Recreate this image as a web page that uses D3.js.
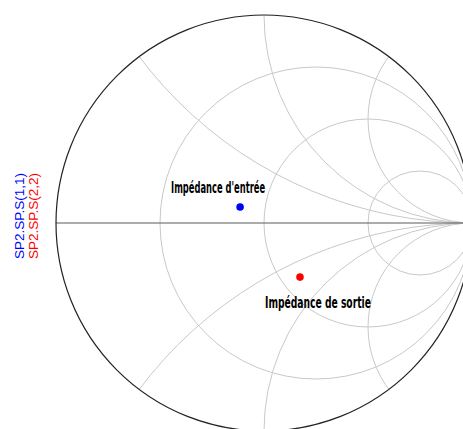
<!DOCTYPE html>
<html><head><meta charset="utf-8">
<script src="https://cdn.jsdelivr.net/npm/d3@7"></script>
<style>body{margin:0;background:#fff}svg{display:block}</style>
</head><body>
<svg id="chart" width="463" height="429"></svg>
<script>
// Data
const seriesNames = ["SP2.SP.S(1,1)", "SP2.SP.S(2,2)"];
const seriesColors = ["#0000ff", "#ff0000"];
const seriesRe = [-0.115, 0.173];
const seriesIm = [0.077, -0.260];
const markerLabels = ["Impédance d'entrée", "Impédance de sortie"];
const resistanceValues = [1/3, 1, 3];
const reactanceValues = [0.5, 1, 2, -0.5, -1, -2];

const W = 463, H = 429;
const svg = d3.select("#chart");
const x = d3.scaleLinear().domain([-1, 1]).range([56, 472]);
const y = d3.scaleLinear().domain([-1, 1]).range([431, 15]);
const R = x(1) - x(0);

svg.append("defs").append("clipPath").attr("id", "uc")
  .append("circle").attr("cx", x(0)).attr("cy", y(0)).attr("r", R);

const grid = svg.append("g").attr("clip-path", "url(#uc)")
  .attr("fill", "none").attr("stroke", "#c8c8c8").attr("stroke-width", 1);

// resistance circles: center (r/(r+1), 0), radius 1/(r+1)
grid.selectAll("circle.res").data(resistanceValues).join("circle")
  .attr("class", "res")
  .attr("cx", d => x(d / (d + 1))).attr("cy", y(0))
  .attr("r", d => R / (d + 1));
// reactance arcs: center (1, 1/x), radius 1/|x|
grid.selectAll("circle.rea").data(reactanceValues).join("circle")
  .attr("class", "rea")
  .attr("cx", x(1)).attr("cy", d => y(1 / d))
  .attr("r", d => R / Math.abs(d));

// real axis
svg.append("line").attr("x1", x(-1)).attr("x2", x(1))
  .attr("y1", y(0)).attr("y2", y(0))
  .attr("stroke", "#5a5a5a").attr("stroke-width", 1.2);
// outer circle
svg.append("circle").attr("cx", x(0)).attr("cy", y(0)).attr("r", R)
  .attr("fill", "none").attr("stroke", "#222").attr("stroke-width", 1.2);

// points
svg.selectAll("circle.pt").data(seriesRe).join("circle")
  .attr("class", "pt")
  .attr("cx", d => x(d)).attr("cy", (d, i) => y(seriesIm[i]))
  .attr("r", 3.8).attr("fill", (d, i) => seriesColors[i]);

// marker labels
const lblDx = [-22, 18];
const lblDy = [-14, 31];
svg.selectAll("text.lbl").data(markerLabels).join("text")
  .attr("class", "lbl")
  .attr("x", (d, i) => x(seriesRe[i]) + lblDx[i])
  .attr("y", (d, i) => y(seriesIm[i]) + lblDy[i])
  .attr("text-anchor", "middle")
  .attr("font-family", "'Liberation Sans Narrow', 'DejaVu Sans Condensed', sans-serif")
  .attr("font-stretch", "condensed")
  .attr("font-weight", "bold")
  .attr("font-size", 15)
  .attr("textLength", (d, i) => i === 0 ? 94 : 106)
  .attr("lengthAdjust", "spacingAndGlyphs")
  .attr("fill", "#000")
  .text(d => d);

// legend (rotated)
const legX = [23.5, 37.5];
svg.selectAll("text.leg").data(seriesNames).join("text")
  .attr("class", "leg")
  .attr("transform", (d, i) => `translate(${legX[i]},216) rotate(-90)`)
  .attr("text-anchor", "middle")
  .attr("font-family", "'Liberation Sans', Arial, sans-serif")
  .attr("font-size", 13.5)
  .attr("fill", (d, i) => seriesColors[i])
  .text(d => d);
</script>
</body></html>
